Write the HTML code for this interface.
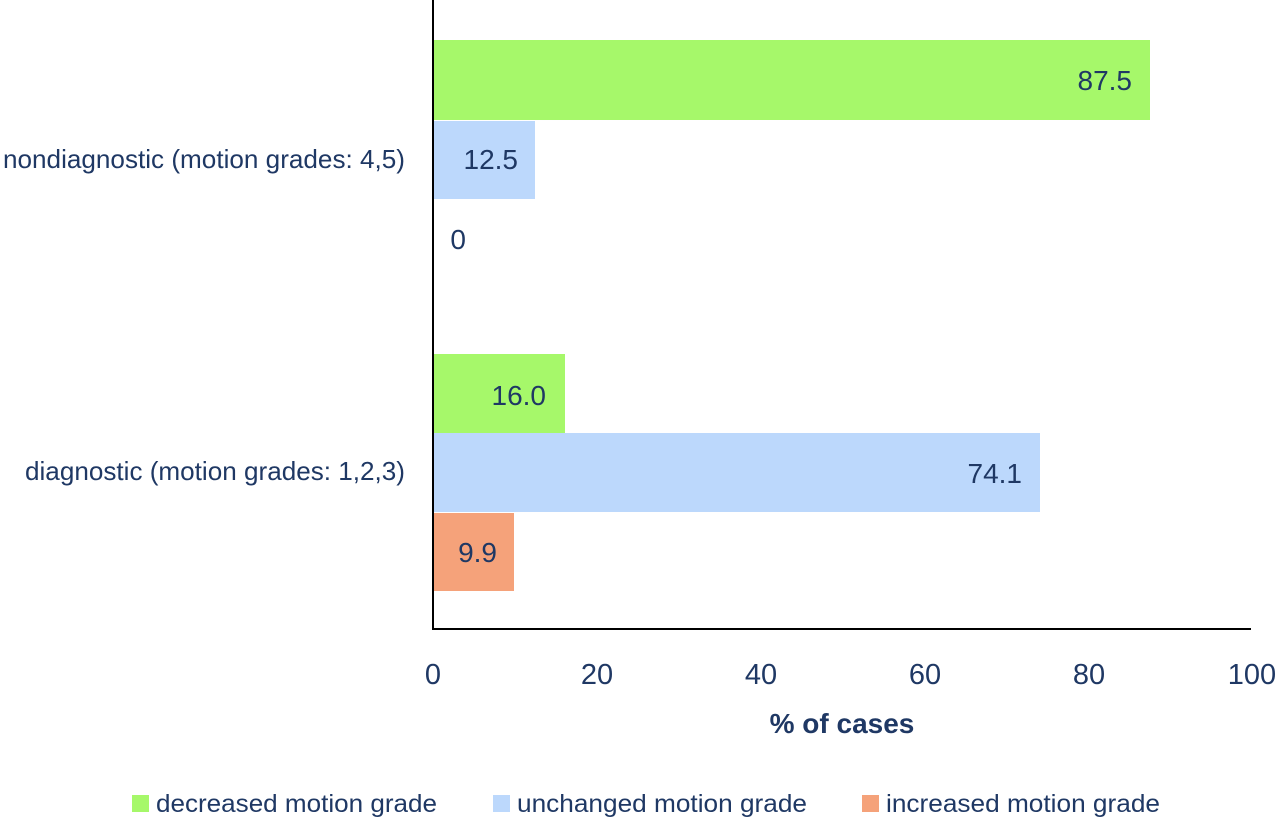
<!DOCTYPE html>
<html><head><style>body{margin:0;background:#fff}svg{display:block}text{font-family:"Liberation Sans",sans-serif;fill:#1f3864}</style></head>
<body>
<svg width="1280" height="823" xmlns="http://www.w3.org/2000/svg">
<rect x="433" y="40" width="717" height="80" fill="#a6f86a"/>
<rect x="433" y="121" width="102" height="78" fill="#bcd8fc"/>
<rect x="433" y="354" width="132" height="79" fill="#a6f86a"/>
<rect x="433" y="433" width="607" height="79" fill="#bcd8fc"/>
<rect x="433" y="513" width="81" height="78" fill="#f5a27a"/>
<line x1="433" y1="0" x2="433" y2="629" stroke="#000" stroke-width="2"/>
<line x1="432" y1="629" x2="1251" y2="629" stroke="#000" stroke-width="2"/>
<g font-size="28" text-anchor="end">
<text x="1132" y="90">87.5</text>
<text x="518" y="169">12.5</text>
<text x="466" y="249">0</text>
<text x="546" y="405">16.0</text>
<text x="1022" y="483">74.1</text>
<text x="497" y="562">9.9</text>
</g>
<g font-size="26" text-anchor="end">
<text x="405" y="168" textLength="402" lengthAdjust="spacingAndGlyphs">nondiagnostic (motion grades: 4,5)</text>
<text x="405" y="480" textLength="380" lengthAdjust="spacingAndGlyphs">diagnostic (motion grades: 1,2,3)</text>
</g>
<g font-size="29" text-anchor="middle">
<text x="433" y="684">0</text><text x="597" y="684">20</text><text x="761" y="684">40</text>
<text x="925" y="684">60</text><text x="1089" y="684">80</text><text x="1252" y="684">100</text>
</g>
<text x="842" y="733" font-size="28" font-weight="bold" text-anchor="middle">% of cases</text>
<g font-size="25">
<rect x="132" y="795" width="17" height="17" fill="#a6f86a"/><text x="156" y="812" textLength="281" lengthAdjust="spacingAndGlyphs">decreased motion grade</text>
<rect x="493" y="795" width="17" height="17" fill="#bcd8fc"/><text x="517" y="812" textLength="290" lengthAdjust="spacingAndGlyphs">unchanged motion grade</text>
<rect x="862" y="795" width="17" height="17" fill="#f5a27a"/><text x="886" y="812" textLength="274" lengthAdjust="spacingAndGlyphs">increased motion grade</text>
</g>
</svg>
</body></html>
